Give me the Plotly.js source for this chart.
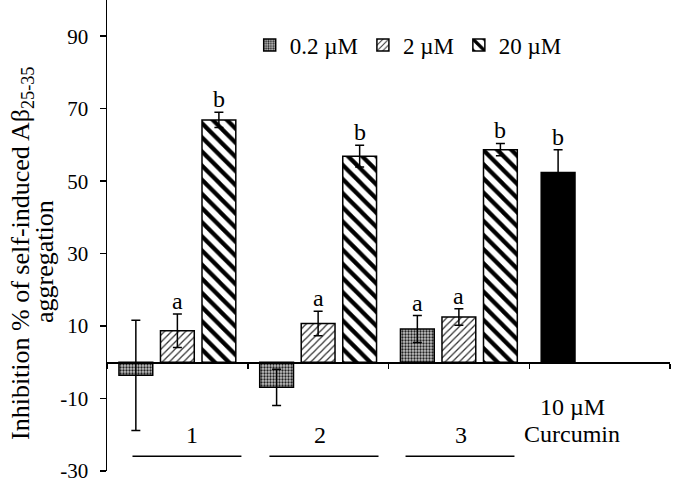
<!DOCTYPE html>
<html>
<head>
<meta charset="utf-8">
<script src="https://cdn.plot.ly/plotly-3.0.1.min.js"></script>
<style>html,body{margin:0;padding:0;background:#fff;}#chart{width:680px;height:483px;}</style>
</head>
<body>
<div id="chart"></div>
<script>
// ---- data ----
var categories = ['1', '2', '3', 'Curcumin'];
var seriesNames = ['0.2 µM', '2 µM', '20 µM'];
var vals02 = [-3.6, -6.9, 9.2];
var err02 = [15.2, 5.0, 3.7];
var vals2 = [8.7, 10.7, 12.5];
var err2 = [4.6, 3.4, 2.3];
var vals20 = [66.9, 56.9, 58.7];
var err20 = [2.1, 3.0, 1.7];
var curcuminVal = [52.4];
var curcuminErr = [6.3];
var letters02 = ['', '', 'a'];
var letters2 = ['a', 'a', 'a'];
var letters20 = ['b', 'b', 'b'];
var lettersCurcumin = ['b'];
var groupLabels = ['1', '2', '3'];
var curcuminLabel = ['10 µM', 'Curcumin'];
var yTickVals = [-30, -10, 10, 30, 50, 70, 90];
var yTickText = ['-30', '-10', '10', '30', '50', '70', '90'];
var yTitleLines = ['Inhibition % of self-induced Aβ<sub>25-35</sub>', 'aggregation'];

var FONT = 'Liberation Serif, Times New Roman, serif';
var groupCats = categories.slice(0, 3);

function errObj(arr) {
  return {type: 'data', array: arr, visible: true, color: '#000', thickness: 1.5, width: 4.5};
}
var outline = {color: '#000', width: 1.5};

var traces = [
  {type: 'bar', name: seriesNames[0], x: groupCats, y: vals02, offsetgroup: 'a',
   error_y: errObj(err02),
   marker: {color: '#b0b0b0', line: outline,
            pattern: {shape: '.', size: 3, solidity: 0.45, fgcolor: '#222', bgcolor: '#c4c4c4'}}},
  {type: 'bar', name: seriesNames[1], x: groupCats, y: vals2, offsetgroup: 'b',
   error_y: errObj(err2),
   marker: {color: '#ffffff', line: outline,
            pattern: {shape: '/', size: 5, solidity: 0.25, fgcolor: '#333', bgcolor: '#fff'}}},
  {type: 'bar', name: seriesNames[2], x: groupCats, y: vals20, offsetgroup: 'c',
   error_y: errObj(err20),
   marker: {color: '#ffffff', line: outline,
            pattern: {shape: '\\', size: 10, solidity: 0.42, fgcolor: '#000', bgcolor: '#fff'}}},
  {type: 'bar', name: 'Curcumin', x: [categories[3]], y: curcuminVal, offsetgroup: 'a',
   showlegend: false, error_y: errObj(curcuminErr),
   marker: {color: '#000', line: outline}}
];

var LBL = 24;
var PLOT_H = 471;
// letters above error bars
var slotOffset = [-0.295, 0, 0.295];
var annotations = [];
function addLetters(letters, vals, errs, slot, startIdx) {
  for (var i = 0; i < letters.length; i++) {
    if (!letters[i]) continue;
    annotations.push({xref: 'x', yref: 'y', x: startIdx + i + slotOffset[slot], y: vals[i] + errs[i],
      text: letters[i], showarrow: false, yanchor: 'bottom', yshift: -2,
      font: {family: FONT, size: LBL, color: '#000'}});
  }
}
addLetters(letters02, vals02, err02, 0, 0);
addLetters(letters2, vals2, err2, 1, 0);
addLetters(letters20, vals20, err20, 2, 0);
addLetters(lettersCurcumin, curcuminVal, curcuminErr, 0, 3);

// group labels below axis
var labelX = [0.107, 1.013, 2.018];
for (var g = 0; g < groupLabels.length; g++) {
  annotations.push({xref: 'x', yref: 'y', x: labelX[g], y: -20.1,
    text: groupLabels[g], showarrow: false, xanchor: 'center', yanchor: 'middle',
    font: {family: FONT, size: LBL, color: '#000'}});
}
var curcY = [-12.4, -19.9];
for (var c = 0; c < curcuminLabel.length; c++) {
  annotations.push({xref: 'x', yref: 'y', x: 2.807, y: curcY[c],
    text: curcuminLabel[c], showarrow: false, xanchor: 'center', yanchor: 'middle',
    font: {family: FONT, size: LBL, color: '#000'}});
}
// y axis title (two lines)
var titleX = [22, 44], titleY = [254, 262];
for (var t = 0; t < yTitleLines.length; t++) {
  annotations.push({xref: 'paper', yref: 'paper', x: (titleX[t] - 107) / 563, y: 1 - titleY[t] / PLOT_H,
    xanchor: 'center', yanchor: 'middle', text: yTitleLines[t], textangle: -90, showarrow: false,
    font: {family: FONT, size: 26, color: '#000'}});
}

// underlines beneath group labels
var lineSpans = [[-0.319, 0.455], [0.654, 1.429], [1.621, 2.395]];
var shapes = lineSpans.map(function (s) {
  return {type: 'line', xref: 'x', yref: 'y', x0: s[0], x1: s[1], y0: -25.9, y1: -25.9,
    line: {color: '#000', width: 1.5}};
});

var layout = {
  width: 680, height: 483,
  margin: {l: 107, r: 10, t: 0, b: 12},
  paper_bgcolor: '#fff', plot_bgcolor: '#fff',
  font: {family: FONT, size: LBL, color: '#000'},
  barmode: 'group', bargap: 0.115, bargroupgap: 0.186,
  showlegend: true,
  legend: {orientation: 'h', x: 0.535, xanchor: 'center', y: 1 - 45 / PLOT_H, yanchor: 'middle',
    font: {family: FONT, size: 23, color: '#000'}, itemwidth: 30, bgcolor: 'rgba(0,0,0,0)', traceorder: 'normal'},
  xaxis: {type: 'category', categoryorder: 'array', categoryarray: categories, range: [-0.5, 3.5],
    anchor: 'free', position: 30 / 130, showline: true, linecolor: '#000', linewidth: 1.5,
    ticks: 'outside', tickson: 'boundaries', ticklen: 5, tickwidth: 1.5, tickcolor: '#000',
    showticklabels: false, showgrid: false, zeroline: false, fixedrange: true},
  yaxis: {range: [-30, 100], tickmode: 'array', tickvals: yTickVals, ticktext: yTickText,
    showline: true, linecolor: '#000', linewidth: 1.5,
    ticks: 'outside', ticklen: 6, tickwidth: 1.5, tickcolor: '#000', showgrid: false, zeroline: false,
    tickfont: {family: FONT, size: 21, color: '#000'}, ticklabelstandoff: 7, ticklabeloverflow: 'allow',
    fixedrange: true},
  annotations: annotations,
  shapes: shapes
};

Plotly.newPlot('chart', traces, layout, {displayModeBar: false, staticPlot: true});
</script>
</body>
</html>
